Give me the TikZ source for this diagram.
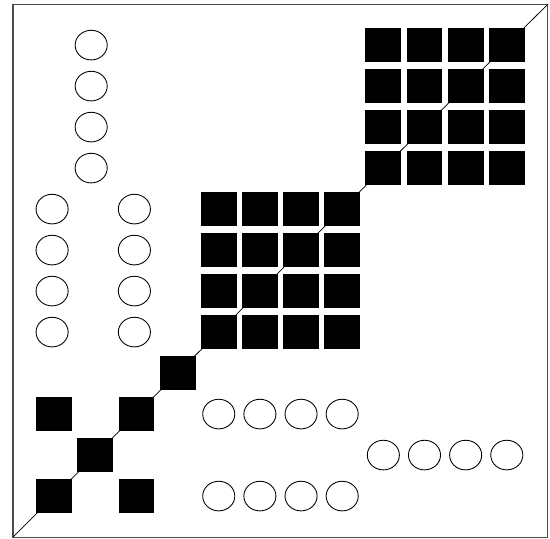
\documentclass[tikz,border=0pt]{standalone}
\usepackage{tikz}
\usetikzlibrary{shapes.geometric}

\begin{document}
\begin{tikzpicture}[x=1cm, y=0.9963cm,
    blk/.style={draw=none, fill=black, inner sep=0pt,
        minimum width=0.87cm, minimum height=0.83cm},
    vec/.style={draw, ellipse, inner sep=0pt, line width=0.6pt,
        minimum width=0.78cm, minimum height=0.72cm}]

    \useasboundingbox (-0.316,-0.024) rectangle (13.05,13.1);

    \coordinate (sw) at (0,0);
    \coordinate (ne) at (13,13);
    \draw[black!70, line width=0.7pt] (sw) rectangle (ne);
    \draw[line width=0.5pt] (sw) -- (ne);

    % small block in the corner
    \foreach \c/\r in {1/1, 3/1, 2/2, 1/3, 3/3, 4/4}
        \node[blk] (b-\c-\r) at (\c,\r) {};
    % the two dense blocks
    \foreach \c in {5,...,8}
        \foreach \r in {5,...,8}
            \node[blk] (b-\c-\r) at (\c,\r) {};
    \foreach \c in {9,...,12}
        \foreach \r in {9,...,12}
            \node[blk] (b-\c-\r) at (\c,\r) {};

    % empty entries
    \foreach \r in {9,...,12}
        \node[vec] (v-2-\r) at (1.9,\r) {};
    \foreach \r in {5,...,8} {
        \node[vec] (v-1-\r) at (0.95,\r) {};
        \node[vec] (v-3-\r) at (2.95,\r) {};
    }
    \foreach \c in {5,...,8} {
        \node[vec] (v-\c-1) at (\c,1) {};
        \node[vec] (v-\c-3) at (\c,3) {};
    }
    \foreach \c in {9,...,12}
        \node[vec] (v-\c-2) at (\c,2) {};
\end{tikzpicture}
\end{document}
